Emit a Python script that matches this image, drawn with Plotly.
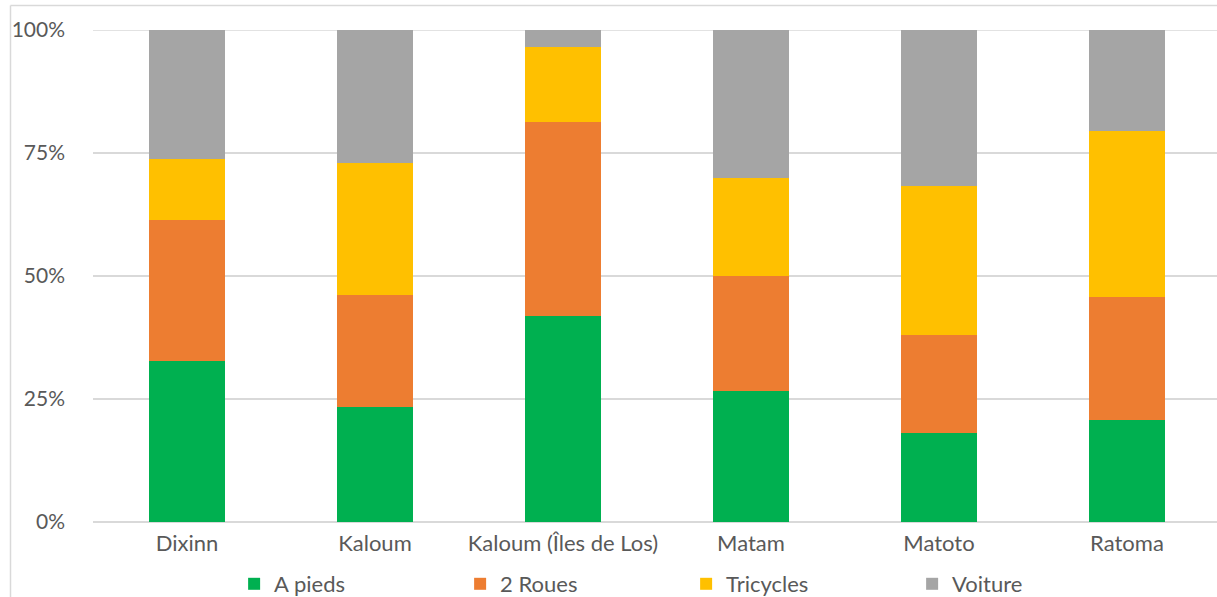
import plotly.graph_objects as go

categories = ["Dixinn", "Kaloum", "Kaloum (Îles de Los)", "Matam", "Matoto", "Ratoma"]
a_pieds = [32.7, 23.4, 41.9, 26.6, 18.1, 20.7]
deux_roues = [28.7, 22.7, 39.4, 23.4, 19.9, 25.0]
tricycles = [12.4, 26.9, 15.2, 19.9, 30.3, 33.8]
voiture = [26.2, 27.0, 3.5, 30.1, 31.7, 20.5]

series = [
    ("A pieds", a_pieds, "#00B050"),
    ("2 Roues", deux_roues, "#ED7D31"),
    ("Tricycles", tricycles, "#FFC000"),
    ("Voiture", voiture, "#A5A5A5"),
]

fig = go.Figure()
for name, vals, color in series:
    fig.add_trace(go.Bar(
        x=categories, y=[v / 100 for v in vals], name=name,
        marker=dict(color=color, line=dict(width=0)),
        hovertemplate="%{x}<br>" + name + ": %{y:.0%}<extra></extra>",
    ))

L, T, PW, PH = 93, 30, 1124, 492
font = "Lato, 'Open Sans', sans-serif"
fig.update_layout(
    barmode="stack",
    bargap=0.6,
    width=1217, height=597,
    margin=dict(l=L, r=1217 - L - PW, t=T, b=597 - T - PH, pad=0, autoexpand=False),
    paper_bgcolor="white", plot_bgcolor="white",
    font=dict(family=font, size=22, color="#595959"),
    showlegend=True,
    legend=dict(
        orientation="h", x=0.13 - 5 / PW, xanchor="left", y=-62 / PH, yanchor="middle",
        entrywidth=181, entrywidthmode="pixels",
        font=dict(size=22, color="#595959"),
        traceorder="normal",
        itemclick=False, itemdoubleclick=False,
    ),
    xaxis=dict(
        range=[-0.5, 5.479], showgrid=False, zeroline=False,
        showline=False, ticks="", ticklabelstandoff=6,
        tickfont=dict(size=22, color="#595959"),
    ),
    yaxis=dict(
        range=[0, 1.0], tickvals=[0, 0.25, 0.5, 0.75, 1.0],
        tickformat=".0%", showgrid=True, gridcolor="#D9D9D9", gridwidth=1.5,
        zeroline=True, zerolinecolor="#D9D9D9", zerolinewidth=1.5,
        ticks="", ticklabelstandoff=27,
        tickfont=dict(size=21, color="#595959"),
    ),
    shapes=[
        dict(type="line", xref="paper", yref="paper",
             x0=(10.5 - L) / PW, x1=(10.5 - L) / PW,
             y0=-(597 - T - PH) / PH, y1=(PH + T - 5.5) / PH,
             line=dict(color="#D9D9D9", width=1.5)),
        dict(type="line", xref="paper", yref="paper",
             x0=(10.5 - L) / PW, x1=1.05,
             y0=(PH + T - 5.5) / PH, y1=(PH + T - 5.5) / PH,
             line=dict(color="#D9D9D9", width=1.5)),
        dict(type="line", xref="paper", yref="y",
             x0=0, x1=1.05, y0=1.0, y1=1.0, layer="below",
             line=dict(color="#D9D9D9", width=1.5)),
        dict(type="line", xref="paper", yref="y",
             x0=1, x1=1.05, y0=0, y1=0, layer="below",
             line=dict(color="#D9D9D9", width=1.5)),
    ],
)

fig.write_html(
    "out.html",
    config={"displayModeBar": False},
    post_script="document.body.style.margin='0';document.body.style.overflow='hidden';",
)
